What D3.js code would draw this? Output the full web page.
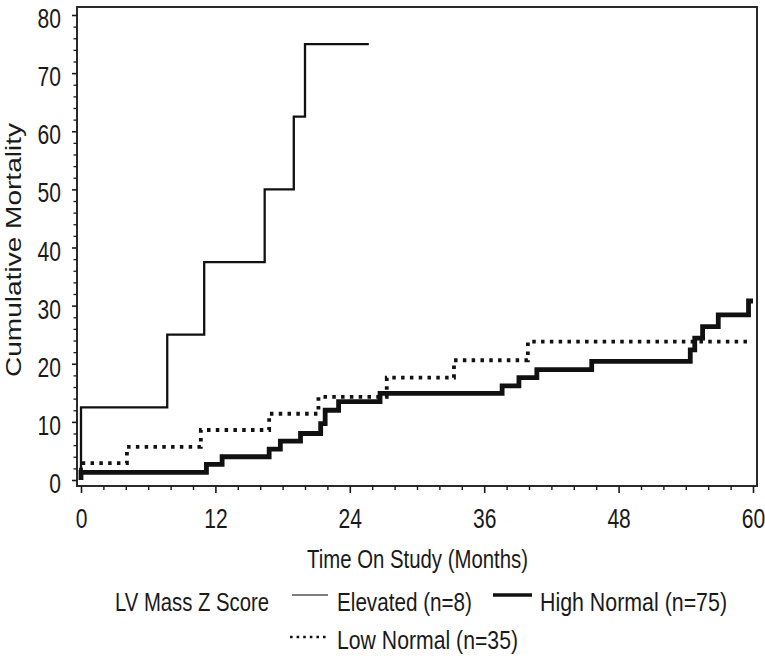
<!DOCTYPE html>
<html><head><meta charset="utf-8">
<script src="https://cdn.jsdelivr.net/npm/d3@7"></script>
<style>
body{margin:0;background:#fff}
svg text{font-family:"Liberation Sans",Arial,Helvetica,sans-serif;fill:#1a1a1a}
</style>
</head><body>
<svg id="c" width="765" height="658"></svg>
<script>
// ---- data ----
const elevatedTime  = [0, 0, 7.7, 11.0, 16.4, 19.0, 20.0, 25.7];
const elevatedValue = [0, 12.5, 25, 37.5, 50, 62.5, 75, 75];

const highNormalTime  = [0, 0, 11.2, 12.6, 16.8, 17.8, 19.6, 21.4, 21.8, 23.0, 26.7, 37.6, 39.1, 40.7, 45.6, 54.4, 54.8, 55.5, 56.9, 59.6, 60.0];
const highNormalValue = [0, 1.3, 2.7, 4.0, 5.3, 6.7, 8.0, 9.7, 12.0, 13.5, 14.9, 16.2, 17.6, 19.0, 20.4, 22.4, 24.4, 26.4, 28.4, 30.8, 30.8];

const lowNormalTime  = [0, 0, 4.1, 10.7, 16.8, 21.2, 27.3, 33.3, 39.9, 59.5];
const lowNormalValue = [0, 2.9, 5.7, 8.6, 11.4, 14.3, 17.6, 20.6, 23.8, 23.8];

const xTicks = [0, 12, 24, 36, 48, 60];
const xMinorTicks = [2,4,6,8,10,14,16,18,20,22,26,28,30,32,34,38,40,42,44,46,50,52,54,56,58];
const yTicks = [0, 10, 20, 30, 40, 50, 60, 70, 80];
const yMinorTicks = [2,4,6,8,12,14,16,18,22,24,26,28,32,34,36,38,42,44,46,48,52,54,56,58,62,64,66,68,72,74,76,78];

const xTitle = "Time On Study (Months)";
const yTitle = "Cumulative Mortality";
const legendTitle = "LV Mass Z Score";
const seriesNames = ["Elevated (n=8)", "High Normal (n=75)", "Low Normal (n=35)"];

// ---- drawing ----
const svg = d3.select('#c');
const ink = '#1a1a1a';
const x = d3.scaleLinear().domain([0, 60]).range([81, 753]);
const y = d3.scaleLinear().domain([0, 80]).range([480, 15]);
const frame = {l: 77, r: 757, t: 7, b: 486};
const SX = 0.78; // condensed look

// frame
svg.append('rect')
  .attr('x', frame.l).attr('y', frame.t)
  .attr('width', frame.r - frame.l).attr('height', frame.b - frame.t)
  .attr('fill', 'none').attr('stroke', '#2a2a2a').attr('stroke-width', 2);

// x axis
const gx = svg.append('g').attr('transform', `translate(0,${frame.b})`)
  .attr('color', ink)
  .call(d3.axisBottom(x).tickValues(xTicks).tickSize(7).tickSizeOuter(0).tickFormat(d3.format('d')));
gx.select('.domain').remove();
gx.selectAll('line').attr('stroke-width', 1.6);
gx.attr('font-size', 27).attr('font-family', '"Liberation Sans",Arial,sans-serif');
gx.selectAll('text').attr('y', 42).attr('dy', null).attr('transform', `scale(${SX},1)`);

const gxm = svg.append('g').attr('transform', `translate(0,${frame.b})`)
  .attr('color', ink)
  .call(d3.axisBottom(x).tickValues(xMinorTicks).tickSize(4).tickSizeOuter(0).tickFormat(''));
gxm.select('.domain').remove();
gxm.selectAll('line').attr('stroke-width', 1.4);

// y axis
const gy = svg.append('g').attr('transform', `translate(${frame.l},0)`)
  .attr('color', ink)
  .call(d3.axisLeft(y).tickValues(yTicks).tickSize(5).tickSizeOuter(0).tickFormat(d3.format('d')));
gy.select('.domain').remove();
gy.selectAll('line').attr('stroke-width', 1.6);
gy.attr('font-size', 27).attr('font-family', '"Liberation Sans",Arial,sans-serif');
gy.selectAll('text').attr('x', -16 / SX).attr('y', 12.5).attr('dy', null).attr('transform', `scale(${SX},1)`);

const gym = svg.append('g').attr('transform', `translate(${frame.l},0)`)
  .attr('color', ink)
  .call(d3.axisLeft(y).tickValues(yMinorTicks).tickSize(3.5).tickSizeOuter(0).tickFormat(''));
gym.select('.domain').remove();
gym.selectAll('line').attr('stroke-width', 1.3);

// curves
const line = d3.line().x(d => x(d[0])).y(d => y(d[1])).curve(d3.curveStepAfter);
const series = [
  {t: elevatedTime, v: elevatedValue, w: 2.3, dash: null},
  {t: highNormalTime, v: highNormalValue, w: 4.8, dash: null},
  {t: lowNormalTime, v: lowNormalValue, w: 3.8, dash: '3.5,5.3'}
];
series.forEach(s => {
  const pts = s.t.map((t, i) => [t, s.v[i]]);
  svg.append('path').attr('d', line(pts))
    .attr('fill', 'none').attr('stroke', '#111')
    .attr('stroke-width', s.w).attr('stroke-linejoin', 'miter')
    .attr('stroke-dasharray', s.dash);
});

// axis titles
svg.append('text').attr('x', 307).attr('y', 568)
  .attr('font-size', 25).attr('textLength', 221).attr('lengthAdjust', 'spacingAndGlyphs')
  .text(xTitle);

svg.append('text').attr('transform', 'translate(21,377) rotate(-90)')
  .attr('font-size', 22).attr('textLength', 254).attr('lengthAdjust', 'spacingAndGlyphs')
  .text(yTitle);

// legend
svg.append('text').attr('x', 115).attr('y', 611)
  .attr('font-size', 25).attr('textLength', 154).attr('lengthAdjust', 'spacingAndGlyphs')
  .text(legendTitle);

const legendItems = [
  {x0: 292, x1: 328, ly: 595, tx: 337, ty: 611, len: 135, w: 1.5, dash: null, col: '#555'},
  {x0: 493, x1: 532, ly: 595, tx: 540, ty: 611, len: 187, w: 3.6, dash: null, col: '#111'},
  {x0: 290, x1: 328, ly: 637, tx: 337, ty: 649, len: 181, w: 2.6, dash: '2.6,4', col: '#111'}
];
legendItems.forEach((it, i) => {
  svg.append('line').attr('x1', it.x0).attr('x2', it.x1).attr('y1', it.ly).attr('y2', it.ly)
    .attr('stroke', it.col).attr('stroke-width', it.w).attr('stroke-dasharray', it.dash);
  svg.append('text').attr('x', it.tx).attr('y', it.ty)
    .attr('font-size', 25).attr('textLength', it.len).attr('lengthAdjust', 'spacingAndGlyphs')
    .text(seriesNames[i]);
});
</script>
</body></html>
